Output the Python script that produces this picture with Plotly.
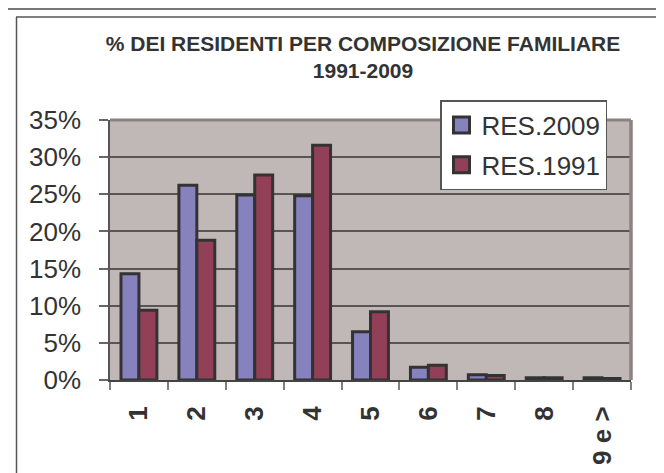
import plotly.graph_objects as go

categories = ["1", "2", "3", "4", "5", "6", "7", "8", "9 e >"]
res_2009 = [0.143, 0.262, 0.249, 0.248, 0.065, 0.017, 0.007, 0.003, 0.003]
res_1991 = [0.094, 0.188, 0.276, 0.316, 0.092, 0.020, 0.006, 0.003, 0.002]
series_names = ["RES.2009", "RES.1991"]
y_ticks = [0, 0.05, 0.10, 0.15, 0.20, 0.25, 0.30, 0.35]

COL_2009 = "#8682BE"
COL_1991 = "#924058"
OUTLINE = "#333333"
FONT = "Liberation Sans, Arial, sans-serif"

W, H = 664, 473
L, R, T, B = 102, 41, 112, 101
PW, PH = W - L - R, H - T - B


def px(x):
    return (x - L) / PW


def py(y):
    return (H - B - y) / PH


fig = go.Figure()
for name, vals, col in [(series_names[0], res_2009, COL_2009),
                        (series_names[1], res_1991, COL_1991)]:
    fig.add_trace(go.Bar(
        x=categories, y=vals, name=name, showlegend=False,
        marker=dict(color=col, line=dict(color=OUTLINE, width=3)),
    ))

for i, (name, col) in enumerate([(series_names[0], COL_2009), (series_names[1], COL_1991)]):
    fig.add_trace(go.Scatter(
        x=[None], y=[None], mode="markers", name=name, legendgroup=f"g{i}",
        marker=dict(symbol="square", size=16, color=col,
                    line=dict(color=OUTLINE, width=3)),
    ))

shapes = [
    # plot area top and right borders
    dict(type="line", xref="paper", yref="paper", x0=0, x1=1, y0=1, y1=1,
         line=dict(color="#8C8282", width=3)),
    dict(type="line", xref="paper", yref="paper", x0=1, x1=1, y0=0, y1=1,
         line=dict(color="#8C8282", width=3.5)),
    # outer chart border
    dict(type="line", xref="paper", yref="paper", x0=px(8.5), x1=px(8.5), y0=py(9), y1=py(H + 5),
         line=dict(color="#555555", width=1.5)),
    dict(type="line", xref="paper", yref="paper", x0=px(8), x1=px(W + 5), y0=py(9), y1=py(9),
         line=dict(color="#555555", width=1.5)),
    dict(type="line", xref="paper", yref="paper", x0=px(-2), x1=px(W + 5), y0=py(1), y1=py(1),
         line=dict(color="#777777", width=2)),
]

fig.update_layout(
    width=W, height=H,
    margin=dict(l=L, r=R, t=T, b=B, pad=0),
    paper_bgcolor="white",
    plot_bgcolor="#C0B8B6",
    barmode="group", bargap=0.38, bargroupgap=0,
    font=dict(family=FONT, color="#333333"),
    title=dict(
        text="% DEI RESIDENTI PER COMPOSIZIONE FAMILIARE<br>1991-2009",
        font=dict(family=FONT, size=21, color="#333333", weight="bold"),
        x=px(355), xref="paper", xanchor="center",
        y=1 - 43 / H, yref="container", yanchor="top",
    ),
    legend=dict(
        x=px(432), y=py(92), xanchor="left", yanchor="top",
        bgcolor="white", bordercolor="#555555", borderwidth=1.5,
        font=dict(family=FONT, size=26, color="#333333"),
        tracegroupgap=3, traceorder="grouped",
    ),
    shapes=shapes,
    xaxis=dict(
        type="category", tickangle=-90,
        tickfont=dict(family=FONT, size=26, color="#333333", weight="bold"),
        showline=True, linecolor="#444444", linewidth=2,
        ticks="outside", tickson="boundaries", ticklen=8, tickwidth=1.5, tickcolor="#808080",
        ticklabelstandoff=14, showgrid=False,
    ),
    yaxis=dict(
        range=[0, 0.35], tickvals=y_ticks, tickformat=".0%",
        tickfont=dict(family=FONT, size=26, color="#333333"),
        showline=True, linecolor="#555555", linewidth=1.5,
        ticks="outside", ticklen=9, tickwidth=1.5, tickcolor="#666666",
        ticklabelstandoff=13,
        showgrid=True, gridcolor="#5A5555", gridwidth=1.5, zeroline=False,
    ),
)

fig.write_html("out.html")
